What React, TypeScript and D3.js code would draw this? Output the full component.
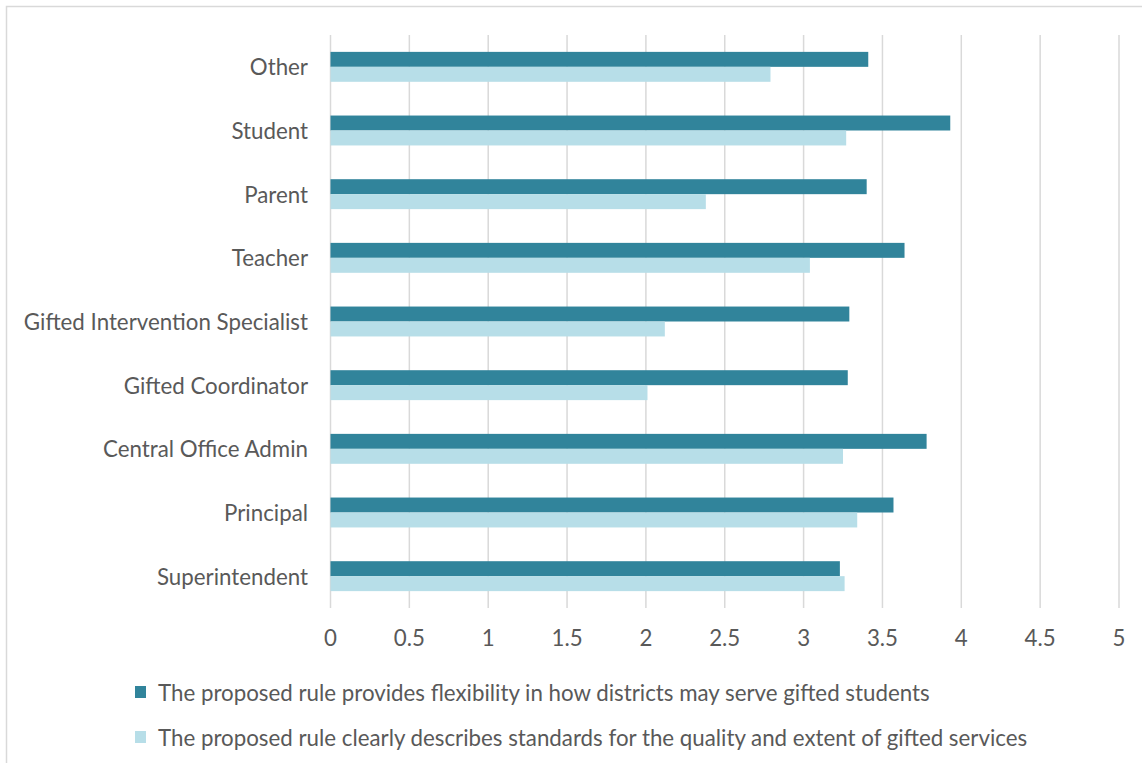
import React from "react";
import * as d3 from "d3";

const categories = [
  "Other",
  "Student",
  "Parent",
  "Teacher",
  "Gifted Intervention Specialist",
  "Gifted Coordinator",
  "Central Office Admin",
  "Principal",
  "Superintendent",
];
const flexibility = [3.41, 3.93, 3.4, 3.64, 3.29, 3.28, 3.78, 3.57, 3.23];
const standards = [2.79, 3.27, 2.38, 3.04, 2.12, 2.01, 3.25, 3.34, 3.26];
const seriesNames = [
  "The proposed rule provides flexibility in how districts may serve gifted students",
  "The proposed rule clearly describes standards for the quality and extent of gifted services",
];
const ticks = [0, 0.5, 1, 1.5, 2, 2.5, 3, 3.5, 4, 4.5, 5];

const W = 1142;
const H = 763;
const colors = ["#31849B", "#B7DEE8"];
const textColor = "#595959";
const font = "Lato, sans-serif";
const fs = 22.3;

export default function App() {
  const x = d3.scaleLinear().domain([0, 5]).range([330.5, 1119]);
  const y = d3.scaleBand().domain(categories).range([35, 608]).paddingInner(0.53).paddingOuter(0.265);
  const sub = d3.scaleBand().domain(["a", "b"]).range([0, y.bandwidth()]);
  const series = [flexibility, standards];

  return (
    <svg width={W} height={H} style={{ position: "absolute", left: 0, top: 0 }} fontFamily={font}>
      <rect x={0} y={0} width={W} height={H} fill="#fff" />
      <rect x={6.5} y={6.5} width={1140} height={760} fill="none" stroke="#D9D9D9" strokeWidth={1.5} />
      {ticks.map((t) => (
        <line key={t} x1={x(t)} x2={x(t)} y1={35} y2={608} stroke="#D9D9D9" strokeWidth={1.5} />
      ))}
      {categories.map((c, i) => (
        <g key={c}>
          {series.map((s, j) => (
            <rect
              key={j}
              x={x(0)}
              y={(y(c) as number) + (sub(j === 0 ? "a" : "b") as number)}
              width={x(s[i]) - x(0)}
              height={sub.bandwidth()}
              fill={colors[j]}
            />
          ))}
          <text
            x={308}
            y={(y(c) as number) + y.bandwidth() / 2}
            textAnchor="end"
            dominantBaseline="central"
            fontSize={fs}
            fill={textColor}
          >
            {c}
          </text>
        </g>
      ))}
      {ticks.map((t) => (
        <text key={"l" + t} x={x(t)} y={637} textAnchor="middle" dominantBaseline="central" fontSize={fs} fill={textColor}>
          {t}
        </text>
      ))}
      {seriesNames.map((n, j) => (
        <g key={n}>
          <rect x={135} y={(j === 0 ? 692 : 737) - 6} width={11} height={12} fill={colors[j]} />
          <text x={158} y={j === 0 ? 692 : 737} dominantBaseline="central" fontSize={fs} fill={textColor}>
            {n}
          </text>
        </g>
      ))}
    </svg>
  );
}
